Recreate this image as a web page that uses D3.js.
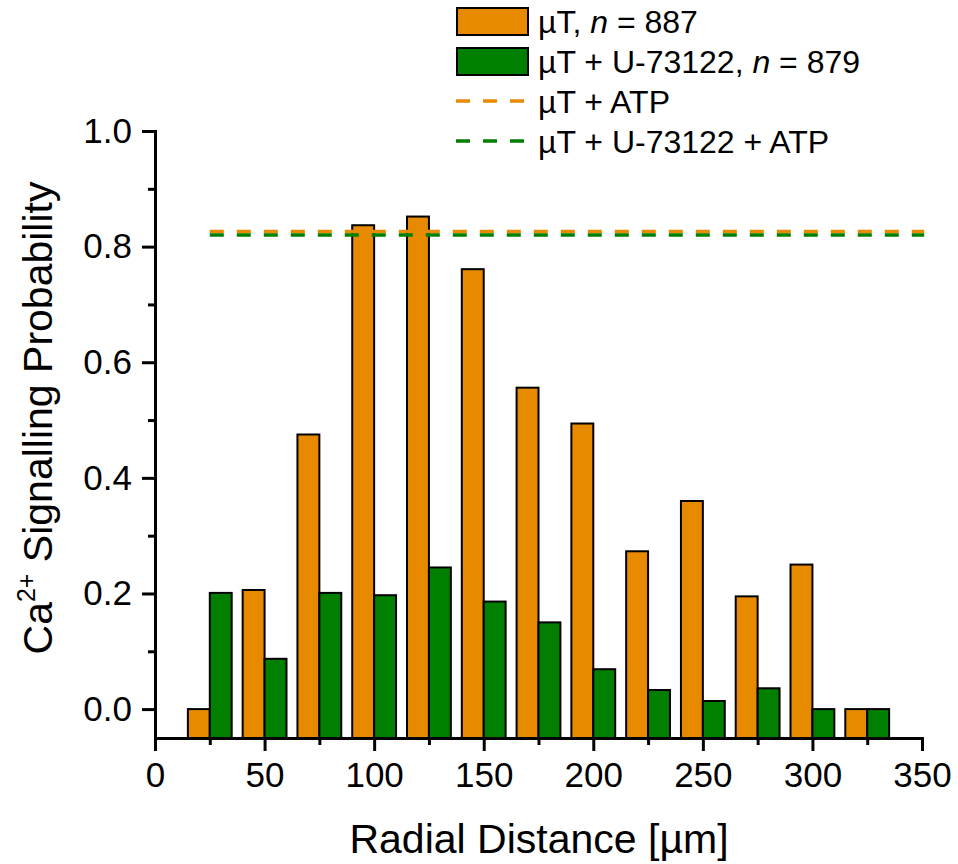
<!DOCTYPE html>
<html>
<head>
<meta charset="utf-8">
<script src="https://cdn.jsdelivr.net/npm/d3@7"></script>
<style>
  body { margin: 0; background: #fff; }
  text { font-family: "Liberation Sans", Arial, sans-serif; fill: #000; }
</style>
</head>
<body>
<div id="chart"></div>
<script>
// bin centres (µm) and probabilities
const bins = [25, 50, 75, 100, 125, 150, 175, 200, 225, 250, 275, 300, 325];
const muT = [0, 0.206, 0.475, 0.837, 0.852, 0.761, 0.556, 0.494, 0.273, 0.36, 0.195, 0.25, 0];
const muTU73122 = [0.201, 0.087, 0.201, 0.197, 0.245, 0.186, 0.15, 0.069, 0.033, 0.014, 0.036, 0, 0];
const atpLevels = [0.826, 0.82]; // µT + ATP, µT + U-73122 + ATP
const atpSpan = [25, 351];
const xTicks = [0, 50, 100, 150, 200, 250, 300, 350];
const yTicks = [0, 0.2, 0.4, 0.6, 0.8, 1.0];

const orange = "#e88a00",
  green = "#007f00";

const W = 958,
  H = 864;

const svg = d3
  .select("#chart")
  .append("svg")
  .attr("width", W)
  .attr("height", H);

const x = d3.scaleLinear().domain([0, 350]).range([155, 922]);
const y = d3.scaleLinear().domain([-0.05, 1.0]).range([738, 131]);
const binW = 10;

// bars: orange left of centre, green right of centre, from axis floor
svg
  .append("g")
  .selectAll("rect")
  .data(bins)
  .enter()
  .append("rect")
  .attr("x", (d) => x(d - binW))
  .attr("y", (d, i) => y(muT[i]))
  .attr("width", x(binW) - x(0))
  .attr("height", (d, i) => y(-0.05) - y(muT[i]))
  .style("fill", orange)
  .style("stroke", "#000")
  .style("stroke-width", 2);

svg
  .append("g")
  .selectAll("rect")
  .data(bins)
  .enter()
  .append("rect")
  .attr("x", (d) => x(d))
  .attr("y", (d, i) => y(muTU73122[i]))
  .attr("width", x(binW) - x(0))
  .attr("height", (d, i) => y(-0.05) - y(muTU73122[i]))
  .style("fill", green)
  .style("stroke", "#000")
  .style("stroke-width", 2);

// ATP reference lines
[orange, green].forEach(function (c, i) {
  svg
    .append("line")
    .attr("x1", x(atpSpan[0]))
    .attr("x2", x(atpSpan[1]))
    .attr("y1", y(atpLevels[i]))
    .attr("y2", y(atpLevels[i]))
    .attr("stroke", c)
    .attr("stroke-width", 3.5)
    .attr("stroke-dasharray", "14,13");
});

// axes
const xAxis = svg.append("g").attr("transform", "translate(0," + y(-0.05) + ")");
xAxis
  .call(d3.axisBottom(x).tickValues(xTicks).tickSize(13).tickSizeOuter(0).tickPadding(11))
  .call((g) => g.select(".domain").attr("stroke-width", 3).attr("stroke-linecap", "square"))
  .call((g) => g.selectAll(".tick line").attr("stroke-width", 3))
  .call((g) => g.selectAll("text").style("font-size", "35px").attr("font-family", null));
svg
  .append("g")
  .attr("transform", "translate(0," + y(-0.05) + ")")
  .call(d3.axisBottom(x).tickValues(d3.range(25, 350, 50)).tickSize(7).tickFormat(""))
  .call((g) => g.select(".domain").remove())
  .call((g) => g.selectAll(".tick line").attr("stroke-width", 3));

const yAxis = svg.append("g").attr("transform", "translate(" + x(0) + ",0)");
yAxis
  .call(d3.axisLeft(y).tickValues(yTicks).tickFormat(d3.format(".1f")).tickSize(13).tickSizeOuter(0).tickPadding(10))
  .call((g) => g.select(".domain").attr("stroke-width", 3).attr("stroke-linecap", "square"))
  .call((g) => g.selectAll(".tick line").attr("stroke-width", 3))
  .call((g) => g.selectAll("text").style("font-size", "35px").attr("font-family", null));
svg
  .append("g")
  .attr("transform", "translate(" + x(0) + ",0)")
  .call(d3.axisLeft(y).tickValues([0.1, 0.3, 0.5, 0.7, 0.9]).tickSize(7).tickFormat(""))
  .call((g) => g.select(".domain").remove())
  .call((g) => g.selectAll(".tick line").attr("stroke-width", 3));

// axis titles
svg
  .append("text")
  .attr("x", 539)
  .attr("y", 853)
  .attr("text-anchor", "middle")
  .style("font-size", "41px")
  .text("Radial Distance [µm]");

const yTitle = svg
  .append("text")
  .attr("transform", "translate(52,418) rotate(-90)")
  .attr("text-anchor", "middle")
  .style("font-size", "41px");
yTitle.append("tspan").text("Ca");
yTitle.append("tspan").attr("dy", -17).style("font-size", "25px").text("2+");
yTitle.append("tspan").attr("dy", 17).text(" Signalling Probability");

// legend
const legend = svg.append("g");
const barItems = [
  { c: orange, label: ["µT, ", "n", " = 887"] },
  { c: green, label: ["µT + U-73122, ", "n", " = 879"] },
];
barItems.forEach(function (d, i) {
  legend
    .append("rect")
    .attr("x", 457)
    .attr("y", 8 + i * 40)
    .attr("width", 71)
    .attr("height", 27)
    .style("fill", d.c)
    .style("stroke", "#000")
    .style("stroke-width", 2);
  const t = legend
    .append("text")
    .attr("x", 538)
    .attr("y", 33 + i * 40)
    .style("font-size", "32px");
  t.append("tspan").text(d.label[0]);
  t.append("tspan").style("font-style", "italic").text(d.label[1]);
  t.append("tspan").text(d.label[2]);
});
const lineItems = [
  { c: orange, label: "µT + ATP" },
  { c: green, label: "µT + U-73122 + ATP" },
];
lineItems.forEach(function (d, i) {
  legend
    .append("line")
    .attr("x1", 456)
    .attr("x2", 524)
    .attr("y1", 101 + i * 40)
    .attr("y2", 101 + i * 40)
    .attr("stroke", d.c)
    .attr("stroke-width", 3.5)
    .attr("stroke-dasharray", "14,13");
  legend
    .append("text")
    .attr("x", 538)
    .attr("y", 113 + i * 40)
    .style("font-size", "32px")
    .text(d.label);
});
</script>
</body>
</html>
